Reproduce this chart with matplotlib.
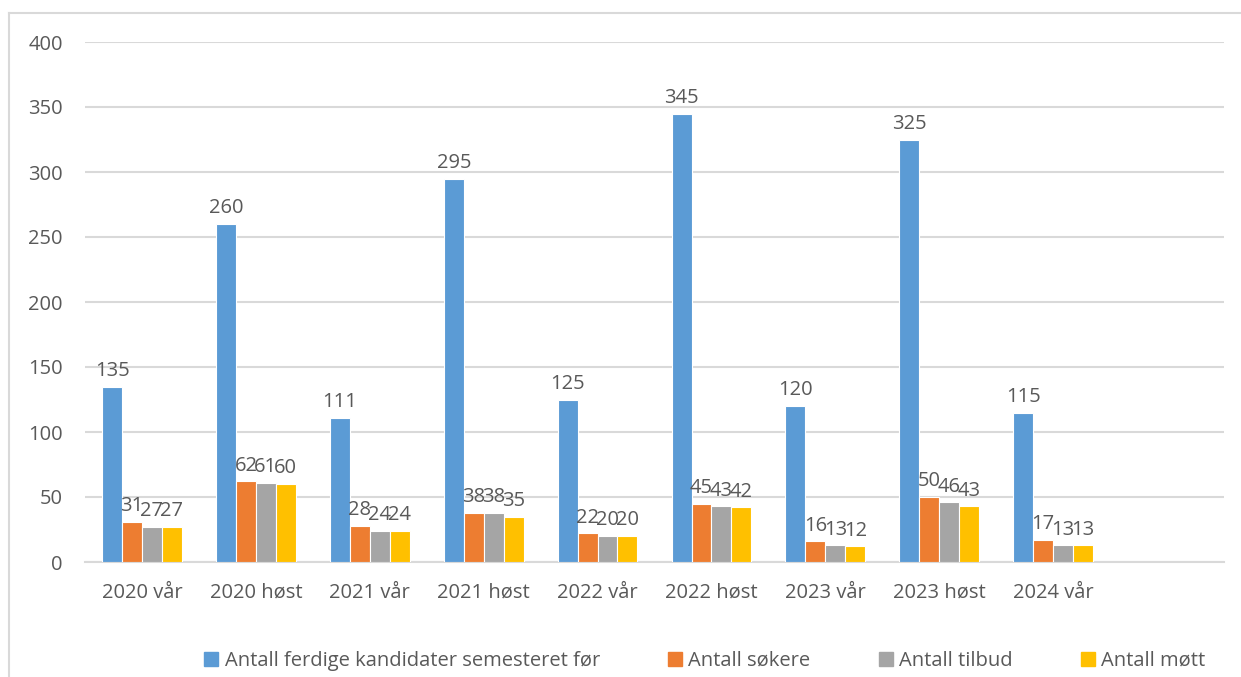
import matplotlib.pyplot as plt
import numpy as np
from matplotlib.lines import Line2D

plt.rcParams['font.family'] = ['Open Sans', 'DejaVu Sans']

categories = ['2020 vår', '2020 høst', '2021 vår', '2021 høst', '2022 vår',
              '2022 høst', '2023 vår', '2023 høst', '2024 vår', '']
ferdige = [135, 260, 111, 295, 125, 345, 120, 325, 115]
sokere = [31, 62, 28, 38, 22, 45, 16, 50, 17]
tilbud = [27, 61, 24, 38, 20, 43, 13, 46, 13]
mott = [27, 60, 24, 35, 20, 42, 12, 43, 13]

series = [
    ('Antall ferdige kandidater semesteret før', ferdige, '#5B9BD5'),
    ('Antall søkere', sokere, '#ED7D31'),
    ('Antall tilbud', tilbud, '#A5A5A5'),
    ('Antall møtt', mott, '#FFC000'),
]

text_col = '#595959'
grid_col = '#D9D9D9'
fs = 14.5

fig = plt.figure(figsize=(12.41, 6.77), dpi=100)
ax = fig.add_axes([85 / 1241, 1 - 562 / 677, (1224 - 85) / 1241, (562 - 42) / 677])

x = np.arange(len(categories))
slot = 0.175
for i, (name, vals, col) in enumerate(series):
    pos = x[:len(vals)] + (i - 1.5) * slot
    bars = ax.bar(pos, vals, width=slot, color=col, edgecolor='white',
                  linewidth=0.8, label=name, zorder=3)
    for b, v in zip(bars, vals):
        ax.annotate(str(v), (b.get_x() + b.get_width() / 2, v),
                    xytext=(0, 4), textcoords='offset points',
                    ha='center', va='bottom', fontsize=fs, color=text_col)

ax.set_xlim(-0.5, len(categories) - 0.5)
ax.set_ylim(0, 400)
ax.set_yticks(range(0, 401, 50))
ax.set_xticks(x)
ax.set_xticklabels(categories)
ax.yaxis.grid(True, color=grid_col, linewidth=1.5, zorder=0)
for s in ['top', 'right', 'left']:
    ax.spines[s].set_visible(False)
ax.spines['bottom'].set_color(grid_col)
ax.spines['bottom'].set_linewidth(1.5)
ax.tick_params(axis='both', length=0, labelsize=fs, labelcolor=text_col)
ax.tick_params(axis='y', pad=16)
ax.tick_params(axis='x', pad=15)

handles = [plt.Rectangle((0, 0), 1, 1, color=c) for _, _, c in series]
fig.legend(handles, [n for n, _, _ in series], loc='center',
           bbox_to_anchor=(705 / 1241, 1 - 661 / 677), ncol=4, frameon=False,
           fontsize=fs, labelcolor=text_col, handlelength=0.7, handleheight=0.7,
           handletextpad=0.3, columnspacing=3.4)

# outer chart border (left and top visible)
fig.add_artist(Line2D([9 / 1241, 9 / 1241], [0, 1 - 13 / 677],
                      transform=fig.transFigure, color=grid_col, linewidth=1.5))
fig.add_artist(Line2D([9 / 1241, 1], [1 - 13 / 677, 1 - 13 / 677],
                      transform=fig.transFigure, color=grid_col, linewidth=1.5))

fig.savefig('out.png', dpi=100)
